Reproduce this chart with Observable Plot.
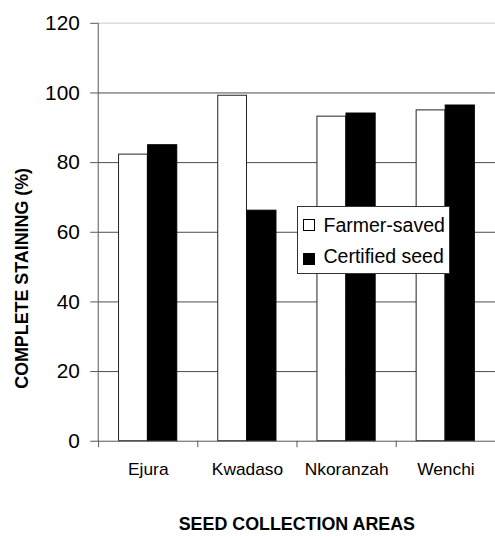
<!DOCTYPE html>
<html>
<head>
<meta charset="utf-8">
<script src="https://cdn.jsdelivr.net/npm/d3@7"></script>
<script src="https://cdn.jsdelivr.net/npm/@observablehq/plot@0.6"></script>
<style>
  html, body { margin: 0; padding: 0; background: #fff; overflow: hidden; }
  #wrap { position: relative; width: 495px; height: 537px; overflow: hidden; font-family: "Liberation Sans", Arial, sans-serif; }
  #legend { position: absolute; left: 296.5px; top: 205.5px; width: 151.5px; height: 66px; background: #fff; border: 1px solid #333; }
  #legend .sw { position: absolute; left: 5.5px; width: 10px; height: 10px; border: 1px solid #000; }
  #legend .lb { position: absolute; left: 26px; font-size: 19.5px; line-height: 1; color: #000; white-space: nowrap; }
</style>
</head>
<body>
<div id="wrap"></div>
<script>
const areas = ["Ejura", "Kwadaso", "Nkoranzah", "Wenchi"];
const farmerSaved = [82.3, 99.2, 93.2, 95.0];
const certifiedSeed = [85.0, 66.2, 94.1, 96.4];
const series = ["Farmer-saved", "Certified seed"];
const yTicks = [0, 20, 40, 60, 80, 100, 120];
const xTitle = "SEED COLLECTION AREAS";
const yTitle = "COMPLETE STAINING (%)";

const farmer = areas.map((a, i) => ({area: a, value: farmerSaved[i]}));
const certified = areas.map((a, i) => ({area: a, value: certifiedSeed[i]}));

const font = "'Liberation Sans', Arial, sans-serif";
const axisGray = "#555";

const chart = Plot.plot({
  width: 499,
  height: 537,
  marginLeft: 98.5,
  marginRight: 0,
  marginTop: 23,
  marginBottom: 92.7,
  style: {fontFamily: font, background: "#fff", overflow: "visible"},
  x: {type: "band", domain: areas, padding: 0, label: null},
  y: {domain: [0, 120], label: null},
  marks: [
    Plot.ruleY(yTicks.filter(t => t > 0 && t < 120), {stroke: "#4a4a4a", strokeWidth: 1}),
    Plot.ruleY([120], {stroke: "#dcdcdc", strokeWidth: 1.5}),
    Plot.barY(farmer, {x: "area", y: "value", fill: "#fff", stroke: "#222", strokeWidth: 1, insetLeft: 20.5, insetRight: 50.5}),
    Plot.barY(certified, {x: "area", y: "value", fill: "#000", stroke: "#000", strokeWidth: 1, insetLeft: 49.8, insetRight: 20.8}),
    Plot.ruleY([0], {stroke: axisGray, strokeWidth: 1}),
    Plot.frame({anchor: "left", stroke: axisGray, strokeWidth: 1}),
    Plot.axisY({ticks: yTicks, tickSize: 7.5, tickPadding: 11, fontSize: 21, stroke: axisGray, color: "#000", label: null}),
    Plot.axisX({tickSize: 6.5, dx: -50.1, tickFormat: () => "", stroke: axisGray, label: null}),
    Plot.axisX({tickSize: 0, tickPadding: 22, fontSize: 17.5, fill: "#000", label: null}),
    Plot.text([xTitle], {frameAnchor: "bottom", lineAnchor: "middle", textAnchor: "middle", dy: 83.5, fontSize: 18, fontWeight: "bold", fill: "#000"}),
    Plot.text([yTitle], {frameAnchor: "left", lineAnchor: "middle", textAnchor: "middle", rotate: -90, dx: -77, dy: 46.5, fontSize: 18, fontWeight: "bold", fill: "#000"})
  ]
});

const wrap = document.getElementById("wrap");
wrap.appendChild(chart);

const legend = document.createElement("div");
legend.id = "legend";
const items = [
  {label: series[0], fill: "#fff", swTop: 12, lbTop: 9},
  {label: series[1], fill: "#000", swTop: 46, lbTop: 40.8}
];
for (const it of items) {
  const sw = document.createElement("div");
  sw.className = "sw";
  sw.style.top = it.swTop + "px";
  sw.style.background = it.fill;
  legend.appendChild(sw);
  const lb = document.createElement("div");
  lb.className = "lb";
  lb.style.top = it.lbTop + "px";
  lb.textContent = it.label;
  legend.appendChild(lb);
}
wrap.appendChild(legend);
</script>
</body>
</html>
